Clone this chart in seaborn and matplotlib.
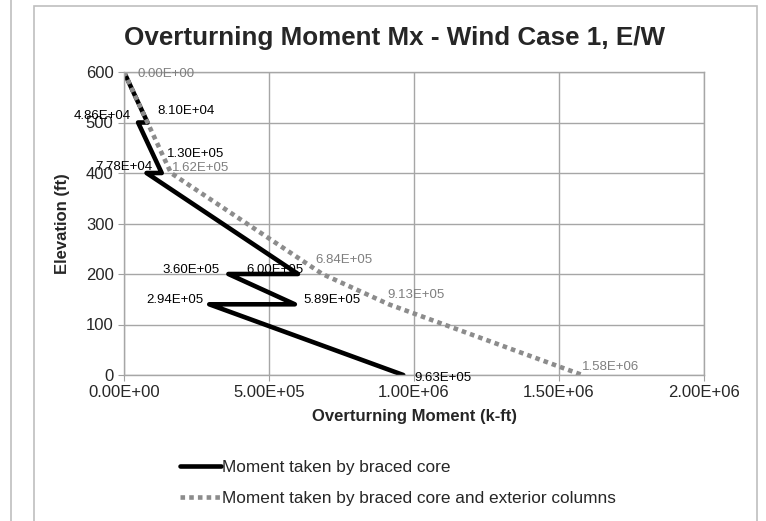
import matplotlib
matplotlib.use("Agg")
import matplotlib.pyplot as plt
import matplotlib.ticker as mticker
from matplotlib.patches import Rectangle
from matplotlib.lines import Line2D
import pandas as pd
import seaborn as sns

# braced core only
core_moment = [0, 8.10e4, 4.86e4, 1.30e5, 7.78e4, 6.00e5, 3.60e5, 5.89e5, 2.94e5, 9.63e5]
core_elev = [600, 500, 500, 400, 400, 200, 200, 140, 140, 0]
core_labels = ["", "8.10E+04", "4.86E+04", "1.30E+05", "7.78E+04",
               "6.00E+05", "3.60E+05", "5.89E+05", "2.94E+05", "9.63E+05"]

# braced core + exterior columns
total_moment = [0, 8.10e4, 1.62e5, 6.84e5, 9.13e5, 1.58e6]
total_elev = [600, 500, 400, 200, 140, 0]
total_labels = ["0.00E+00", "", "1.62E+05", "6.84E+05", "9.13E+05", "1.58E+06"]

series_names = ["Moment taken by braced core",
                "Moment taken by braced core and exterior columns"]

x_ticks = [0, 5e5, 1e6, 1.5e6, 2e6]
y_ticks = [0, 100, 200, 300, 400, 500, 600]

sns.set_style("white")
plt.rcParams["font.family"] = ["Liberation Sans", "DejaVu Sans"]

core_df = pd.DataFrame({"moment": core_moment, "elev": core_elev})
total_df = pd.DataFrame({"moment": total_moment, "elev": total_elev})

fig = plt.figure(figsize=(7.66, 5.21), dpi=100)
ax = fig.add_axes([124 / 766, 1 - 375 / 521, 580 / 766, 303 / 521])

sns.lineplot(data=core_df, x="moment", y="elev", sort=False, ax=ax,
             color="black", linewidth=3.3, label=series_names[0],
             estimator=None)
sns.lineplot(data=total_df, x="moment", y="elev", sort=False, ax=ax,
             color="#8c8c8c", linewidth=3.3, linestyle=(0, (1, 0.9)),
             label=series_names[1], estimator=None)

ax.set_xlim(0, 2e6)
ax.set_ylim(0, 600)
ax.set_xticks(x_ticks)
ax.set_yticks(y_ticks)
ax.xaxis.set_major_formatter(mticker.FuncFormatter(lambda v, p: f"{v:.2E}"))
ax.tick_params(labelsize=12, length=4, color="#a0a0a0", direction="out",
               left=True, bottom=True)
ax.grid(True, color="#a6a6a6", linewidth=1)
for s in ax.spines.values():
    s.set_color("#a6a6a6")
    s.set_linewidth(1)
ax.set_axisbelow(True)

ax.set_xlabel("Overturning Moment (k-ft)", fontsize=12, fontweight="bold",
              labelpad=6)
ax.set_ylabel("Elevation (ft)", fontsize=12, fontweight="bold", labelpad=11)

# data labels (offsets in points: dx, dy, ha)
core_pos = [None, (7, 8, "left"), (-5, 4.5, "right"), (4, 14, "left"),
            (4, 4, "right"), (4, 3, "right"), (-6, 3, "right"),
            (6, 3, "left"), (-4, 3, "right"), (8, -2, "left")]
for m, e, t, p in zip(core_moment, core_elev, core_labels, core_pos):
    if t:
        dx, dy, ha = p
        ax.annotate(t, (m, e), xytext=(dx, dy), textcoords="offset points",
                    ha=ha, va="center", fontsize=9.5, color="black")

total_pos = [(10, -1.5, "left"), None, (1, 3.5, "left"), (-5, 10, "left"),
             (-1, 7, "left"), (0, 6, "left")]
for m, e, t, p in zip(total_moment, total_elev, total_labels, total_pos):
    if t:
        dx, dy, ha = p
        ax.annotate(t, (m, e), xytext=(dx, dy), textcoords="offset points",
                    ha=ha, va="center", fontsize=9.5, color="#7f7f7f")

leg = ax.legend(loc="upper left", bbox_to_anchor=(180 / 766, 1 - 460 / 521),
                bbox_transform=fig.transFigure, frameon=False, fontsize=12.4,
                handlelength=2.4, handletextpad=0.05, labelspacing=0.95,
                borderpad=0, borderaxespad=0)

fig.text(395 / 766, 1 - 38 / 521, "Overturning Moment Mx - Wind Case 1, E/W",
         ha="center", va="center", fontsize=18.7, fontweight="bold")

# chart frame and neighbouring panel edge
fig.patches.append(Rectangle((34 / 766, -0.05), (757 - 34) / 766, 1.05 - 6 / 521,
                             transform=fig.transFigure, fill=False,
                             edgecolor="#bfbfbf", linewidth=1.2, zorder=0))
fig.lines.append(Line2D([11 / 766, 11 / 766], [0, 1], transform=fig.transFigure,
                        color="#bfbfbf", linewidth=1.2))

fig.savefig("out.png", dpi=100)
